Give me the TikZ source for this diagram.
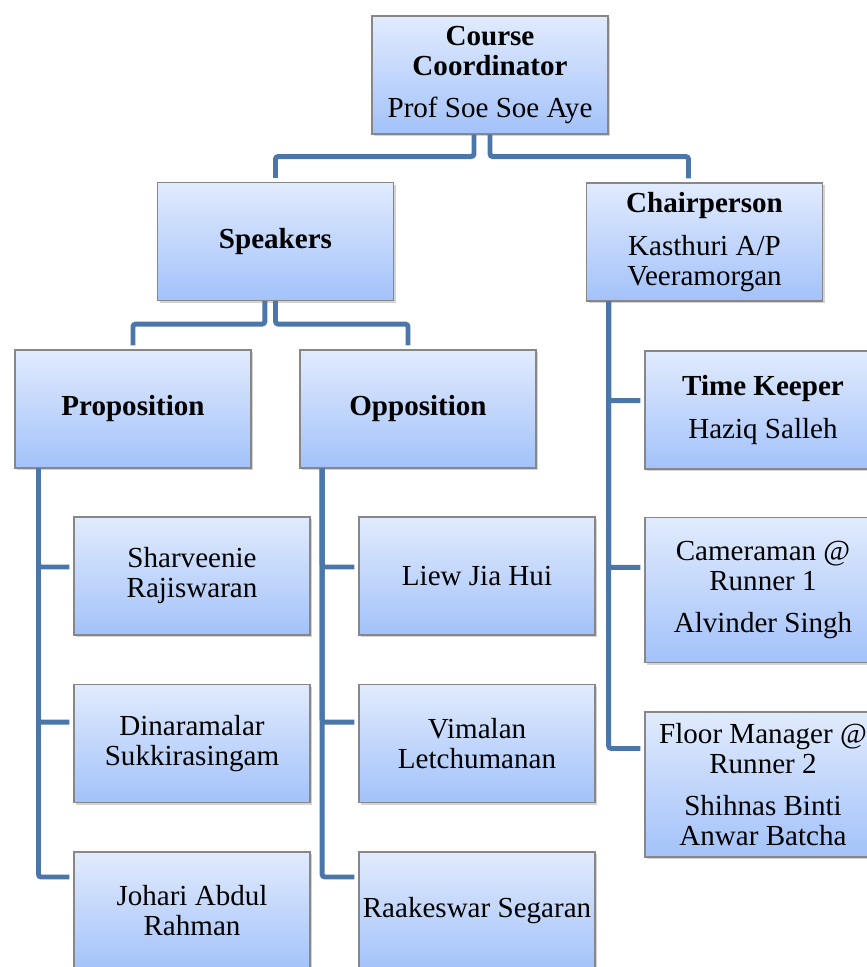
\documentclass[tikz,border=0pt]{standalone}
\usepackage{fontspec}
\setmainfont{Liberation Serif}
\usepackage{tikz}
\usetikzlibrary{shadows}
\definecolor{boxtop}{RGB}{225,235,253}
\definecolor{boxbot}{RGB}{163,194,250}
\definecolor{boxline}{RGB}{135,135,135}
\definecolor{linkblue}{RGB}{74,118,170}
\begin{document}
\begin{tikzpicture}[x=0.75pt,y=-0.75pt,
    box/.style={draw=boxline,line width=0.8pt,top color=boxtop,bottom color=boxbot,
      minimum width=177pt,minimum height=88.5pt,inner sep=1pt,align=center,
      font=\fontsize{21.8}{22.5}\selectfont,
      drop shadow={shadow xshift=1.5pt,shadow yshift=-1.5pt,opacity=0.35}},
    tall/.style={box,minimum height=108.75pt},
    link/.style={draw=linkblue,line width=3.7pt,rounded corners=2pt,shorten >=3pt}]
    \useasboundingbox (0,0) rectangle (867,967);
    \node[box] (cc) at (490,75) {\textbf{Course}\\\textbf{Coordinator}\\[9.5pt]Prof Soe Soe Aye};
    \node[box] (sp) at (275.5,241.5) {\textbf{Speakers}};
    \node[box] (ch) at (704.5,242) {\textbf{Chairperson}\\[9.5pt]Kasthuri A/P\\Veeramorgan};
    \node[box] (pro) at (133,409) {\textbf{Proposition}};
    \node[box] (opp) at (418,409) {\textbf{Opposition}};
    \node[box] (tk) at (763,410) {\textbf{Time Keeper}\\[9.5pt]Haziq Salleh};
    \node[tall] (cam) at (763,590) {Cameraman @\\Runner 1\\[9.5pt]Alvinder Singh};
    \node[tall] (fm) at (763,784.5) {Floor Manager @\\Runner 2\\[9.5pt]Shihnas Binti\\Anwar Batcha};
    \node[box] (p1) at (192,576) {Sharveenie\\Rajiswaran};
    \node[box] (p2) at (192,743.5) {Dinaramalar\\Sukkirasingam};
    \node[box] (p3) at (192,911) {Johari Abdul\\Rahman};
    \node[box] (o1) at (477,576) {Liew Jia Hui};
    \node[box] (o2) at (477,743.5) {Vimalan\\Letchumanan};
    \node[box] (o3) at (477,911) {Raakeswar Segaran};

    \draw[link] ([xshift=-12pt]cc.south) -- ++(0,22) -| (sp.north);
    \draw[link] (cc.south) -- ++(0,22) -| ([xshift=-12pt]ch.north);
    \draw[link] ([xshift=-8pt]sp.south) -- ++(0,23) -| (pro.north);
    \draw[link] (sp.south) -- ++(0,23) -| ([xshift=-7.5pt]opp.north);
    \draw[link] ([xshift=17pt]ch.south west) |- ([yshift=7pt]tk.west);
    \draw[link] ([xshift=17pt]ch.south west) |- ([yshift=17pt]cam.west);
    \draw[link] ([xshift=17pt]ch.south west) |- ([yshift=27pt]fm.west);
    \draw[link] ([xshift=18pt]pro.south west) |- ([yshift=6.75pt]p1.west);
    \draw[link] ([xshift=18pt]pro.south west) |- ([yshift=16pt]p2.west);
    \draw[link] ([xshift=18pt]pro.south west) |- ([yshift=25.5pt]p3.west);
    \draw[link] ([xshift=17pt]opp.south west) |- ([yshift=6.75pt]o1.west);
    \draw[link] ([xshift=17pt]opp.south west) |- ([yshift=16pt]o2.west);
    \draw[link] ([xshift=17pt]opp.south west) |- ([yshift=25.5pt]o3.west);
\end{tikzpicture}
\end{document}
